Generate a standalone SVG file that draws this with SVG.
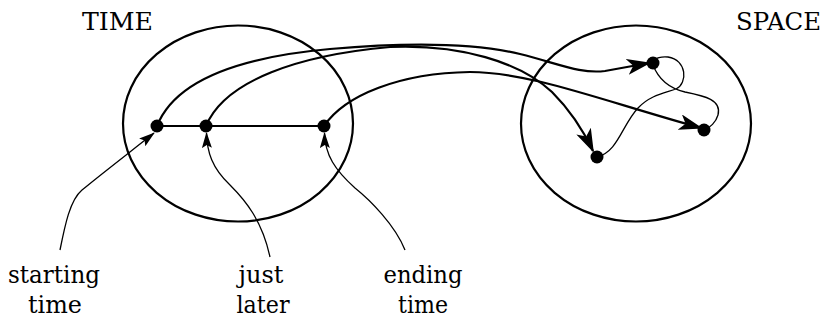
<svg xmlns="http://www.w3.org/2000/svg" width="828" height="323" viewBox="0 0 828 323">
<style>
.region{fill:none;stroke:#000;stroke-width:2.2}
.thick{fill:none;stroke:#000;stroke-width:2.2}
.thin{fill:none;stroke:#000;stroke-width:1.3}
.dot{fill:#000}
.t{font-family:"DejaVu Serif","Liberation Serif",serif;font-size:25px;fill:#000}
.lbl{text-anchor:middle}
</style>
<defs>
<marker id="ah" markerUnits="userSpaceOnUse" markerWidth="26" markerHeight="16" refX="22" refY="8" orient="auto">
<path d="M0,0 L24,8 L0,16 L6,8 Z" fill="#000"/>
</marker>
<marker id="ahs" markerUnits="userSpaceOnUse" markerWidth="18" markerHeight="10" refX="15" refY="5" orient="auto">
<path d="M0,0 L16,5 L0,10 L3,5 Z" fill="#000"/>
</marker>
</defs>
<g id="time-region">
<ellipse class="region" cx="238" cy="123.5" rx="115" ry="98"/>
<text class="t" x="82" y="30" textLength="71" lengthAdjust="spacingAndGlyphs">TIME</text>
</g>
<g id="space-region">
<ellipse class="region" cx="636" cy="123.5" rx="115" ry="98"/>
<text class="t" x="736" y="30" textLength="85" lengthAdjust="spacingAndGlyphs">SPACE</text>
</g>
<g id="connectors">
<line class="thick" x1="157" y1="126" x2="324" y2="126"/>
<path class="thick" d="M157,126 C175,80 240,57 330,49 C400,43 470,42 520,54 C560,64 580,74 605,71 L649,63" marker-end="url(#ah)"/>
<path class="thick" d="M206,126 C225,80 300,55 390,47 C460,44 520,62 552,92 C572,112 584,132 593,151" marker-end="url(#ah)"/>
<path class="thick" d="M324,126 C345,95 400,73 470,72 C530,72 600,100 701,128" marker-end="url(#ah)"/>
<path class="thin" d="M597,157 C618,152 622,125 638,108 C650,95 665,93 676,89 C688,83 687,60 668,57 C655,56 650,62 653,65 C658,78 668,88 685,92 C705,96 722,100 718,115 C716,122 710,128 704,130"/>
<path class="thin" d="M60,250 C65,225 70,200 82,190 C100,175 130,152 154,133" marker-end="url(#ahs)"/>
<path class="thin" d="M270,257 C262,220 245,200 230,185 C212,168 207,152 206.5,133" marker-end="url(#ahs)"/>
<path class="thin" d="M405,250 C395,225 370,200 355,188 C335,170 325,155 324.5,133" marker-end="url(#ahs)"/>
</g>
<g id="starting-time">
<circle class="dot" cx="157" cy="126" r="6.5"/>
<text class="t lbl" x="54" y="283" textLength="92" lengthAdjust="spacingAndGlyphs">starting</text>
<text class="t lbl" x="55" y="313" textLength="54" lengthAdjust="spacingAndGlyphs">time</text>
</g>
<g id="just-later">
<circle class="dot" cx="206" cy="126" r="6.5"/>
<text class="t lbl" x="261" y="283" textLength="45" lengthAdjust="spacingAndGlyphs">just</text>
<text class="t lbl" x="263" y="313" textLength="53" lengthAdjust="spacingAndGlyphs">later</text>
</g>
<g id="ending-time">
<circle class="dot" cx="324" cy="126" r="6.5"/>
<text class="t lbl" x="423" y="283" textLength="79" lengthAdjust="spacingAndGlyphs">ending</text>
<text class="t lbl" x="423" y="313" textLength="50" lengthAdjust="spacingAndGlyphs">time</text>
</g>
<g id="space-point-1"><circle class="dot" cx="653" cy="63" r="6.5"/></g>
<g id="space-point-2"><circle class="dot" cx="597" cy="157" r="6.5"/></g>
<g id="space-point-3"><circle class="dot" cx="704" cy="130" r="6.5"/></g>
</svg>
